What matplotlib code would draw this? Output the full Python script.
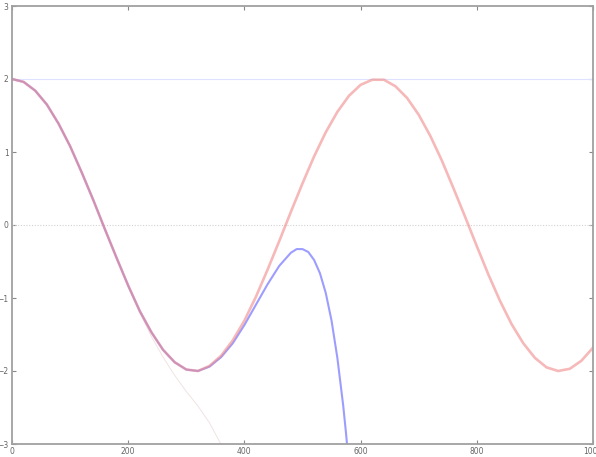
import matplotlib
matplotlib.use("Agg")
import matplotlib.pyplot as plt

# cos curve (red)
x_cos = [0, 20, 40, 60, 80, 100, 120, 140, 160, 180, 200, 220, 240, 260, 280,
         300, 320, 340, 360, 380, 400, 420, 440, 460, 480, 500, 520, 540, 560,
         580, 600, 620, 640, 660, 680, 700, 720, 740, 760, 780, 800, 820, 840,
         860, 880, 900, 920, 940, 960, 980, 1000]
y_cos = [2.00, 1.96, 1.84, 1.65, 1.39, 1.08, 0.72, 0.34, -0.06, -0.45, -0.83,
         -1.18, -1.47, -1.71, -1.88, -1.98, -2.00, -1.93, -1.79, -1.58, -1.31,
         -0.98, -0.61, -0.22, 0.18, 0.57, 0.94, 1.27, 1.55, 1.77, 1.92, 1.99,
         1.99, 1.90, 1.74, 1.51, 1.22, 0.88, 0.50, 0.11, -0.29, -0.68, -1.04,
         -1.36, -1.62, -1.82, -1.95, -2.00, -1.97, -1.86, -1.68]

# order 10 approximation (blue)
x_ord10 = [0, 20, 40, 60, 80, 100, 120, 140, 160, 180, 200, 220, 240, 260, 280,
           300, 320, 340, 360, 380, 400, 420, 440, 460, 480, 490, 500, 510, 520,
           530, 540, 550, 560, 570, 575, 580]
y_ord10 = [2.00, 1.96, 1.84, 1.65, 1.39, 1.08, 0.72, 0.34, -0.06, -0.45, -0.83,
           -1.18, -1.47, -1.71, -1.88, -1.98, -2.00, -1.94, -1.81, -1.62, -1.37,
           -1.09, -0.81, -0.56, -0.38, -0.33, -0.33, -0.37, -0.48, -0.66, -0.93,
           -1.31, -1.82, -2.47, -2.86, -3.30]

# order 6 approximation (faint)
x_ord6 = [0, 20, 40, 60, 80, 100, 120, 140, 160, 180, 200, 220, 240, 260, 280,
          300, 320, 340, 360]
y_ord6 = [2.00, 1.96, 1.84, 1.65, 1.39, 1.08, 0.72, 0.34, -0.06, -0.45, -0.84,
          -1.20, -1.53, -1.81, -2.06, -2.28, -2.48, -2.71, -3.01]

xticks = [0, 200, 400, 600, 800, 1000]
yticks = [-3, -2, -1, 0, 1, 2, 3]

fig = plt.figure(figsize=(5.96, 4.57), dpi=100)
ax = fig.add_axes([12 / 596, 13 / 457, 581 / 596, 438 / 457])

ax.axhline(2, color="#dfe2ff", linewidth=0.8)
ax.axhline(0, color="#d2d2d2", linewidth=0.8, linestyle=(0, (1, 1.5)))

ax.plot(x_ord6, y_ord6, color="#f0e4e4", linewidth=0.7)
ax.plot(x_ord10, y_ord10, color="#8c8cff", linewidth=1.5, alpha=0.85,
        solid_joinstyle="round")
ax.plot(x_cos, y_cos, color="#f08a8a", linewidth=1.9, alpha=0.6,
        solid_joinstyle="round")

ax.set_xlim(0, 1000)
ax.set_ylim(-3, 3)
ax.set_xticks(xticks)
ax.set_yticks(yticks)
ax.tick_params(direction="in", length=3, width=0.8, color="#888888",
               labelsize=5.5, labelcolor="#666666", pad=2,
               top=True, right=True)
ax.tick_params(axis="y", pad=2.5)
for s in ax.spines.values():
    s.set_color("#a0a0a0")
    s.set_linewidth(1.3)

fig.savefig("out.png", dpi=100)
